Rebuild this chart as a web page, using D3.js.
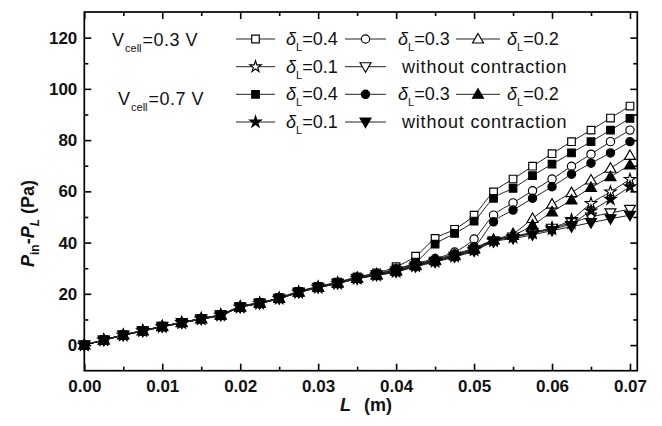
<!DOCTYPE html>
<html>
<head>
<meta charset="utf-8">
<script src="https://d3js.org/d3.v7.min.js"></script>
<style>
  body { margin: 0; background: #fff; }
  svg { display: block; }
  text { font-family: "Liberation Sans", Arial, sans-serif; fill: #111; }
</style>
</head>
<body>
<script>
var SVG_WIDTH = 662;
var SVG_HEIGHT = 426;

// channel length L (m)
var lengths = [0, 0.0025, 0.005, 0.0075, 0.01, 0.0125, 0.015, 0.0175, 0.02, 0.0225, 0.025, 0.0275,
  0.03, 0.0325, 0.035, 0.0375, 0.04, 0.0425, 0.045, 0.0475, 0.05, 0.0525, 0.055, 0.0575,
  0.06, 0.0625, 0.065, 0.0675, 0.07];

// Vcell = 0.3 V (open symbols)
var sq_03   = [0, 2.1, 4.0, 5.7, 7.4, 8.9, 10.4, 12.0, 15.1, 16.6, 18.5, 21.0, 22.9, 24.6, 26.6, 28.2, 30.6, 34.7, 41.6, 45.2, 50.7, 59.8, 64.8, 69.8, 74.7, 79.4, 83.9, 88.6, 93.3];
var circ_03 = [0, 2.0, 4.0, 5.6, 7.3, 8.8, 10.3, 11.9, 15.0, 16.5, 18.4, 20.8, 22.7, 24.4, 26.3, 27.8, 29.5, 31.8, 33.8, 36.3, 41.4, 50.7, 55.5, 60.2, 64.8, 69.8, 74.5, 79.4, 83.9];
var tri_03  = [0, 2.0, 4.0, 5.6, 7.3, 8.8, 10.3, 11.8, 14.9, 16.4, 18.3, 20.7, 22.6, 24.3, 26.2, 27.6, 29.2, 31.2, 33.2, 35.2, 37.8, 41.2, 43.5, 49.4, 55.0, 59.5, 64.4, 69.0, 74.0];
var star_03 = [0, 2.0, 3.9, 5.6, 7.3, 8.8, 10.3, 11.8, 14.9, 16.4, 18.3, 20.7, 22.6, 24.2, 26.1, 27.5, 29.1, 31.0, 32.8, 34.8, 37.3, 40.8, 42.4, 44.0, 45.8, 49.0, 55.3, 59.8, 64.7];
var dtri_03 = [0, 2.0, 3.9, 5.6, 7.3, 8.8, 10.3, 11.8, 14.9, 16.4, 18.3, 20.7, 22.6, 24.2, 26.1, 27.5, 29.0, 30.9, 32.7, 34.7, 37.2, 40.7, 42.2, 43.8, 45.6, 47.8, 50.0, 51.6, 53.0];

// Vcell = 0.7 V (filled symbols)
var sq_07   = [0, 2.0, 3.9, 5.6, 7.3, 8.8, 10.3, 11.8, 14.9, 16.4, 18.3, 20.8, 22.7, 24.4, 26.3, 27.8, 29.8, 32.4, 39.4, 43.6, 48.4, 57.3, 61.2, 66.1, 70.6, 75.0, 79.4, 83.9, 88.5];
var circ_07 = [0, 1.9, 3.9, 5.5, 7.2, 8.7, 10.2, 11.7, 14.8, 16.3, 18.2, 20.6, 22.5, 24.2, 26.1, 27.5, 29.1, 31.5, 33.3, 35.6, 38.4, 48.1, 52.7, 57.3, 61.8, 66.7, 71.0, 75.0, 79.4];
var tri_07  = [0, 1.9, 3.9, 5.5, 7.2, 8.7, 10.2, 11.7, 14.8, 16.3, 18.2, 20.6, 22.5, 24.1, 26.0, 27.3, 28.8, 31.0, 32.9, 34.9, 37.4, 40.9, 42.8, 46.8, 52.0, 56.6, 61.5, 65.7, 70.3];
var star_07 = [0, 1.9, 3.8, 5.5, 7.1, 8.6, 10.1, 11.6, 14.7, 16.2, 18.1, 20.5, 22.4, 24.0, 25.9, 27.2, 28.6, 30.8, 32.6, 34.6, 37.0, 40.6, 42.0, 43.6, 45.2, 47.5, 52.4, 56.9, 61.8];
var dtri_07 = [0, 1.9, 3.8, 5.4, 7.1, 8.6, 10.1, 11.6, 14.7, 16.2, 18.1, 20.5, 22.4, 24.0, 25.9, 27.2, 28.5, 30.6, 32.4, 34.4, 36.7, 40.3, 41.6, 43.0, 44.7, 46.2, 47.8, 49.3, 50.7];

var x_ticks = [0, 0.01, 0.02, 0.03, 0.04, 0.05, 0.06, 0.07];
var x_minor = [0.005, 0.015, 0.025, 0.035, 0.045, 0.055, 0.065];
var y_ticks = [0, 20, 40, 60, 80, 100, 120];
var y_minor = [10, 30, 50, 70, 90, 110];

var legend_labels = ["0.4", "0.3", "0.2", "0.1", "without contraction"];

var series = [
  { values: sq_03,   shape: "square",   filled: false },
  { values: circ_03, shape: "circle",   filled: false },
  { values: tri_03,  shape: "triangle", filled: false },
  { values: star_03, shape: "star",     filled: false },
  { values: dtri_03, shape: "down",     filled: false },
  { values: sq_07,   shape: "square",   filled: true },
  { values: circ_07, shape: "circle",   filled: true },
  { values: tri_07,  shape: "triangle", filled: true },
  { values: star_07, shape: "star",     filled: true },
  { values: dtri_07, shape: "down",     filled: true }
];

var plot_left = 84.3, plot_right = 637.3, plot_top = 12, plot_bottom = 370.7;

var svg = d3.select("body").append("svg")
  .attr("width", SVG_WIDTH)
  .attr("height", SVG_HEIGHT);

var x = d3.scaleLinear().domain([0, 0.07094]).range([plot_left, plot_right]);
var y = d3.scaleLinear().domain([-10, 130]).range([plot_bottom, plot_top]);

function symbolPath(shape) {
  if (shape == "square") return d3.symbol().type(d3.symbolSquare).size(58)();
  if (shape == "circle") return d3.symbol().type(d3.symbolCircle).size(54)();
  if (shape == "star") return d3.symbol().type(d3.symbolStar).size(40)();
  return d3.symbol().type(d3.symbolTriangle).size(52)();
}

function drawMarker(g, shape, filled, cx, cy) {
  var rot = shape == "down" ? " rotate(180)" : "";
  var dy = shape == "triangle" ? 0.8 : (shape == "down" ? -0.8 : 0);
  g.append("path")
    .attr("d", symbolPath(shape))
    .attr("transform", "translate(" + cx + "," + (cy + dy) + ")" + rot)
    .attr("fill", filled ? "#000" : "#fff")
    .attr("stroke", "#000")
    .attr("stroke-width", 1.15);
}

// data lines + markers
var line = d3.line()
  .x(function (d, i) { return x(lengths[i]); })
  .y(function (d) { return y(d); })
  .curve(d3.curveMonotoneX);

var data_g = svg.append("g");
series.forEach(function (s) {
  data_g.append("path")
    .attr("d", line(s.values))
    .attr("fill", "none")
    .attr("stroke", "#222")
    .attr("stroke-width", 1);
});
series.forEach(function (s) {
  s.values.forEach(function (v, i) {
    drawMarker(data_g, s.shape, s.filled, x(lengths[i]), y(v));
  });
});

// axes with inward ticks (mirrored on top/right)
function tickStyle(g) {
  g.select(".domain").remove();
  g.selectAll(".tick line").attr("stroke", "#000").attr("stroke-width", 1.6);
}

svg.append("g")
  .attr("transform", "translate(0," + plot_bottom + ")")
  .call(d3.axisBottom(x).tickValues(x_ticks).tickSize(-7).tickPadding(9).tickFormat(d3.format(".2f")))
  .call(tickStyle)
  .selectAll("text").style("font-size", "17px").style("font-weight", "bold");
svg.append("g")
  .attr("transform", "translate(0," + plot_bottom + ")")
  .call(d3.axisBottom(x).tickValues(x_minor).tickSize(-4).tickFormat(""))
  .call(tickStyle);
svg.append("g")
  .attr("transform", "translate(0," + plot_top + ")")
  .call(d3.axisTop(x).tickValues(x_ticks).tickSize(-7).tickFormat(""))
  .call(tickStyle);
svg.append("g")
  .attr("transform", "translate(0," + plot_top + ")")
  .call(d3.axisTop(x).tickValues(x_minor).tickSize(-4).tickFormat(""))
  .call(tickStyle);

svg.append("g")
  .attr("transform", "translate(" + plot_left + ",0)")
  .call(d3.axisLeft(y).tickValues(y_ticks).tickSize(-7).tickPadding(7))
  .call(tickStyle)
  .selectAll("text").style("font-size", "17px").style("font-weight", "bold");
svg.append("g")
  .attr("transform", "translate(" + plot_left + ",0)")
  .call(d3.axisLeft(y).tickValues(y_minor).tickSize(-4).tickFormat(""))
  .call(tickStyle);
svg.append("g")
  .attr("transform", "translate(" + plot_right + ",0)")
  .call(d3.axisRight(y).tickValues(y_ticks).tickSize(-7).tickFormat(""))
  .call(tickStyle);
svg.append("g")
  .attr("transform", "translate(" + plot_right + ",0)")
  .call(d3.axisRight(y).tickValues(y_minor).tickSize(-4).tickFormat(""))
  .call(tickStyle);

// frame
svg.append("rect")
  .attr("x", plot_left).attr("y", plot_top)
  .attr("width", plot_right - plot_left).attr("height", plot_bottom - plot_top)
  .attr("fill", "none").attr("stroke", "#000").attr("stroke-width", 1.7);

// axis titles
var xt = svg.append("text")
  .attr("x", 340).attr("y", 411)
  .style("font-size", "18px").style("font-weight", "bold");
xt.append("tspan").style("font-style", "italic").text("L");
xt.append("tspan").attr("x", 364).text("(m)");

var yt = svg.append("text")
  .attr("transform", "translate(34,267) rotate(-90)")
  .style("font-size", "18px").style("font-weight", "bold");
yt.append("tspan").style("font-style", "italic").text("P");
yt.append("tspan").attr("dy", 5).style("font-size", "12px").text("in");
yt.append("tspan").attr("dy", -5).text("-");
yt.append("tspan").style("font-style", "italic").text("P");
yt.append("tspan").attr("dy", 5).style("font-size", "12px").style("font-style", "italic").text("L");
yt.append("tspan").attr("dy", -5).text(" (Pa)");

// Vcell annotations
function vcellText(tx, ty, value) {
  var t = svg.append("text").attr("x", tx).attr("y", ty).style("font-size", "18px");
  t.append("tspan").text("V");
  t.append("tspan").attr("dy", 6).attr("dx", 1).style("font-size", "11px").text("cell");
  t.append("tspan").attr("dy", -6).attr("dx", 1).style("letter-spacing", "0.5px").text("=" + value + " V");
}
vcellText(112, 46, "0.3");
vcellText(118, 105, "0.7");

// legend
var legend_rows = [39, 66.7, 94.3, 122];
var col_lines = [[236, 275], [345, 386], [456, 500]];
var col_text = [286, 398, 507];
var shapes = ["square", "circle", "triangle", "star", "down"];
var legend_g = svg.append("g");

function legendEntry(idx, filled, row, col) {
  var cy = legend_rows[row];
  var seg = col_lines[col];
  legend_g.append("line")
    .attr("x1", seg[0]).attr("x2", seg[1]).attr("y1", cy).attr("y2", cy)
    .attr("stroke", "#222").attr("stroke-width", 1);
  drawMarker(legend_g, shapes[idx], filled, (seg[0] + seg[1]) / 2, cy);
  var t = legend_g.append("text").attr("x", col_text[col]).attr("y", cy + 6).style("font-size", "18px");
  if (idx < 4) {
    t.append("tspan").style("font-style", "italic").text("\u03b4");
    t.append("tspan").attr("dy", 6).style("font-size", "11px").text("L");
    t.append("tspan").attr("dy", -6).text("=" + legend_labels[idx]);
  } else {
    t.attr("x", 402).style("letter-spacing", "0.8px").text(legend_labels[idx]);
  }
}

[false, true].forEach(function (filled, k) {
  legendEntry(0, filled, 2 * k, 0);
  legendEntry(1, filled, 2 * k, 1);
  legendEntry(2, filled, 2 * k, 2);
  legendEntry(3, filled, 2 * k + 1, 0);
  legendEntry(4, filled, 2 * k + 1, 1);
});
</script>
</body>
</html>
